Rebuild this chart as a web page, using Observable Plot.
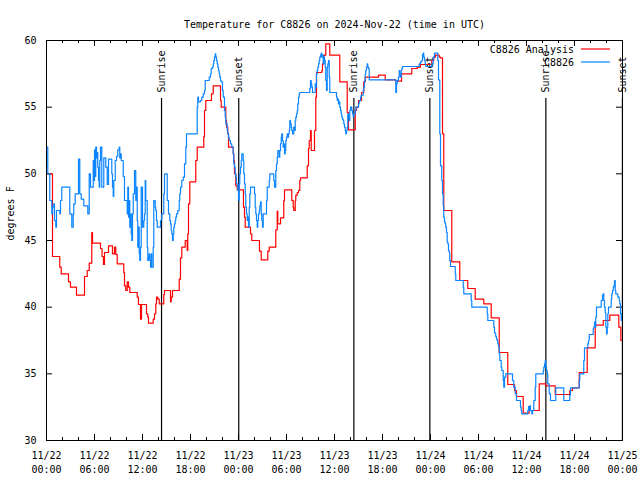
<!DOCTYPE html>
<html><head><meta charset="utf-8">
<script src="https://cdn.jsdelivr.net/npm/d3@7"></script>
<script src="https://cdn.jsdelivr.net/npm/@observablehq/plot@0.6"></script>
<style>body{margin:0;background:#fff}#chart{width:640px;height:480px}</style>
</head><body><div id="chart"></div>
<script>
// hours since 2024-11-22 00:00 UTC, temperature (deg F)
const startMs = Date.UTC(2024, 10, 22);
const analysisSeries = [[0,50],[0.75,43.8],[1.66,43],[1.84,42.5],[2.75,41.9],[3,41.5],[3.75,40.9],[4.75,42.3],[5.09,42.75],[5.34,43.3],[5.66,45.6],[5.75,44.8],[6.75,44.4],[6.94,43.8],[7.12,43.2],[7.25,44.1],[7.75,44.6],[8.25,44],[8.5,44.5],[8.66,43.95],[8.84,43.25],[9.66,42.6],[9.75,41.6],[9.91,41.25],[10.09,41.9],[10.25,41.5],[10.41,41.1],[11.34,40.75],[11.5,40.2],[11.75,39.1],[11.875,40.2],[12.5,39.5],[12.66,39.25],[12.75,38.8],[13.34,39.1],[13.5,39.5],[13.66,40.25],[13.75,40.75],[13.91,40.6],[14.09,40.25],[14.66,40.95],[14.75,41.25],[15.5,40.4],[15.59,40.75],[15.75,41.25],[16.59,42.1],[16.75,43.7],[16.91,44.5],[17.34,45],[17.59,44.25],[17.66,45.5],[17.75,47.75],[17.91,49.4],[18.66,51],[18.84,52],[19.66,52.8],[19.75,54.75],[19.91,55.5],[20.62,56],[20.84,56.6],[21.75,55.5],[21.84,55],[22.41,54],[22.5,53.5],[22.66,53],[22.75,52],[23.34,51.5],[23.41,51],[23.5,50],[23.66,49.1],[23.84,48.8],[24.62,47.5],[24.75,46.75],[24.84,46],[25.5,45.5],[25.66,45],[26.62,44.2],[26.84,43.55],[27.66,44.2],[27.84,44.5],[28.66,45.8],[28.84,47.2],[28.91,46.25],[29.25,46.7],[29.66,48],[29.75,48.8],[30.66,48],[30.84,47.5],[30.91,47.25],[31.09,48],[31.16,48.4],[31.34,48.6],[31.5,48.75],[31.66,49.5],[31.75,49.7],[32.59,50.6],[32.75,51.9],[32.84,52.5],[33,53.25],[33.09,51.75],[33.5,53.25],[33.66,55.75],[33.75,57.6],[34.41,57.75],[34.5,58.25],[34.66,58.9],[34.91,59.75],[35.41,58.9],[36.66,56.9],[37.59,54.6],[37.75,53.3],[38.59,54.75],[38.75,55],[39,55.5],[39.38,56.1],[39.66,56.9],[39.84,57.25],[41.5,57.4],[42.34,57.05],[43.66,56.95],[44.38,57.5],[45.66,57.9],[46.34,58],[46.75,58.2],[48.16,58.5],[48.41,58.75],[48.62,58.9],[49.09,58.75],[49.25,58.7],[49.5,53],[49.66,47.25],[50.66,43.4],[51.66,42],[52.66,41.4],[53.59,40.6],[54.66,40.25],[55.59,39.2],[56.59,36.6],[57.66,34.2],[58.5,33.75],[58.75,33.3],[59.59,32.05],[60.34,32.25],[61.59,34.25],[62.41,34.1],[63.59,33.45],[65.41,33.75],[65.75,33.95],[66.59,35.1],[67.59,36.95],[68.59,38.65],[69.59,39],[70.41,39.4],[71.54,38.5],[71.79,37.5],[72,37.5]];
const observedSeries = [[0,52],[0.16,50],[0.41,48],[0.66,47],[0.75,47.5],[0.91,47.75],[1,46.5],[1.16,46],[1.25,47.25],[1.66,47],[1.75,48],[1.91,49],[2.91,47],[3.16,46],[3.34,47],[3.41,47.75],[3.59,48.5],[4.0,51.1],[4.16,48.5],[4.34,48.1],[4.66,47.6],[5.16,47],[5.34,50],[5.5,49],[5.84,51],[5.91,49.5],[6,51.8],[6.09,49.8],[6.16,52],[6.25,51.2],[6.34,51.6],[6.41,50.5],[6.5,49.5],[6.59,49],[6.66,51],[6.75,52],[6.91,49],[7.16,51.2],[7.34,51.2],[7.41,50.5],[7.59,49.2],[7.75,51.1],[8.16,50],[8.25,49],[8.34,48.3],[8.41,49.5],[8.59,51],[8.75,51.3],[8.91,51.8],[9.09,52],[9.16,51.2],[9.25,51.5],[9.34,51],[9.59,49.8],[9.75,48],[10.0,48],[10.09,47],[10.16,49],[10.25,46.75],[10.34,48],[10.41,46],[10.5,47],[10.59,45.5],[10.66,45],[10.75,47],[10.84,48.5],[11.0,50.25],[11.16,48],[11.25,49],[11.34,46.5],[11.41,44.5],[11.5,46],[11.59,44],[11.66,43.5],[11.75,44.5],[11.84,49],[12.0,46],[12.16,46.5],[12.25,47],[12.34,49.5],[12.41,48],[12.59,44.5],[12.66,43.5],[12.75,43.75],[12.84,44],[12.91,43.5],[13.0,43],[13.09,44],[13.16,43],[13.34,44.5],[13.41,48],[13.59,47.5],[13.66,47.25],[13.75,46.5],[13.84,46],[14.25,46.5],[14.41,47],[14.66,48.5],[14.75,50],[15.09,48],[15.25,47],[15.41,46.5],[15.5,46.25],[15.59,45.75],[15.66,45.5],[15.75,45],[15.84,45.5],[15.91,46],[16.0,46.25],[16.09,46.5],[16.16,46.75],[16.25,47],[16.41,47.25],[16.59,48],[16.66,48.5],[16.75,49],[16.91,49.5],[17.09,49.75],[17.25,50.75],[17.41,52],[17.5,53],[18.84,55],[18.91,55.75],[19.0,55.4],[19.25,55.5],[19.41,55.75],[19.59,56],[19.75,56.25],[19.84,57],[20.34,57.25],[20.5,57.5],[20.59,57.9],[20.75,58],[20.84,58.25],[20.91,58.5],[21.0,58.75],[21.09,59],[21.16,58.75],[21.25,58.5],[21.34,58.25],[21.41,58],[21.5,57.75],[21.59,57.5],[21.66,57.25],[21.75,57],[21.84,56.9],[22.0,56.25],[22.09,55.75],[22.25,54.75],[22.34,54.25],[22.41,53.75],[22.59,53.25],[22.66,53],[22.75,52.75],[22.84,52.5],[23.0,52.25],[23.16,52],[23.34,51.5],[23.41,50.75],[23.5,50.5],[23.59,50],[23.66,49.75],[23.75,49.25],[23.91,48.75],[24.0,48],[24.09,49.25],[24.16,50],[24.25,50.5],[24.34,51],[24.41,51.5],[24.59,51],[24.66,50],[24.75,49.25],[24.84,48.5],[24.91,47.5],[25.0,47],[25.09,46.5],[25.16,46.75],[25.25,46],[25.34,47.5],[25.41,48.5],[25.5,49],[25.91,49],[26.0,48.5],[26.09,47.5],[26.16,47],[26.25,46.5],[26.34,46],[26.41,46.5],[26.5,47],[26.59,47.25],[26.66,47.6],[26.75,47.9],[26.84,47],[26.91,46.5],[27.0,46],[27.09,47],[27.5,48],[27.59,49],[27.84,49.5],[27.91,50],[28.41,49.5],[28.5,49],[28.66,50.25],[28.75,50.75],[28.84,51.25],[28.91,51.75],[29.09,51.25],[29.16,51.75],[29.25,52.25],[29.34,52.75],[29.41,53],[29.5,52.5],[29.59,52],[29.66,52.25],[29.75,51.5],[29.84,51.75],[29.91,52.5],[30.0,52.75],[30.09,53],[30.16,52.75],[30.25,53],[30.34,53.25],[30.41,54],[30.5,53.75],[30.59,53.5],[30.66,53.25],[30.75,53],[30.91,53.5],[31.0,53.25],[31.09,54],[31.16,54.25],[31.25,54.5],[31.34,54.75],[31.41,55.25],[31.5,55.75],[31.59,56],[31.66,56.1],[32.91,56.4],[33.0,57],[33.09,56.75],[33.16,56.5],[33.25,56.1],[33.59,56.75],[33.66,56.5],[33.75,57.5],[33.84,57.75],[33.91,58],[34.0,58.25],[34.09,58.5],[34.16,58.75],[34.25,58.9],[34.34,59.05],[34.41,58.75],[34.5,58.9],[34.59,58.25],[34.66,58.75],[34.75,58.5],[34.84,58],[34.91,57],[35.0,56.25],[35.09,58],[35.16,58.25],[35.25,58.5],[35.34,57.25],[35.41,56.1],[36.25,55.75],[36.34,55.5],[36.41,55.6],[36.5,55.25],[36.59,55.4],[36.66,55],[36.75,54.75],[36.84,54.5],[36.91,54.25],[37.0,54.1],[37.09,54],[37.16,53.75],[37.25,53.5],[37.34,53.25],[37.41,53],[37.5,53.25],[37.59,53.5],[37.66,54.5],[37.75,54.25],[37.84,54],[37.91,54.75],[38.0,55],[38.16,54.75],[38.25,54.5],[38.34,54.25],[38.41,54.5],[38.59,54.75],[38.66,55],[39.0,55.25],[39.09,55.4],[39.16,55.5],[39.25,55.75],[39.34,55.9],[39.59,56.25],[39.66,56.5],[39.75,57],[39.84,57.5],[39.91,57.75],[40.0,58],[40.09,58.25],[40.16,58],[40.25,57.9],[40.34,57.05],[43.66,56.1],[43.75,56.75],[43.84,57],[44.0,57.25],[44.09,57.75],[44.16,57.5],[44.25,57.25],[44.34,57.75],[44.41,57.9],[44.5,58.05],[46.59,58.25],[46.75,58.4],[46.91,58.5],[47.0,58.95],[47.09,59.05],[47.16,58.75],[47.25,58.5],[47.34,58.25],[47.41,58.05],[48.16,58.25],[48.34,58.75],[48.5,59.05],[48.91,58.5],[49.0,57.05],[49.16,53],[49.25,50.6],[49.41,49.5],[49.5,48.5],[49.59,47.6],[49.66,46.75],[49.75,46.4],[49.84,46.25],[49.91,46],[50.0,45.6],[50.09,44.9],[50.16,44.75],[50.25,44.25],[50.34,44.1],[50.41,43.5],[50.5,43.05],[51.09,42.5],[51.16,42],[52.09,41.5],[52.16,41],[53.09,40.5],[53.16,40],[55.09,39.5],[55.16,39],[55.91,38.5],[56.0,38.1],[56.09,38],[56.16,37.8],[56.25,37.6],[56.34,37.5],[56.41,37.25],[56.5,37],[56.59,36.5],[56.66,36],[56.84,35.5],[56.91,35.25],[57.09,34.5],[57.16,34],[57.25,34.75],[57.41,35],[58.16,35],[58.25,34.5],[58.41,34],[58.59,33.5],[58.75,33],[59.25,32.5],[59.34,32.25],[59.41,32],[60.16,32.25],[60.25,32.55],[60.34,32.25],[60.41,32.6],[60.5,32.25],[60.66,32],[60.75,32.25],[60.91,33],[61.09,34],[61.16,35],[62.09,35.25],[62.16,35.5],[62.25,35.75],[62.34,36],[62.41,35.5],[62.5,35.25],[62.59,35],[62.66,34.25],[62.84,33.5],[63.0,33],[63.66,33.95],[64.66,33],[65.41,33.4],[65.5,33.95],[66.59,34.5],[66.66,35],[67.16,36],[67.25,36.95],[67.66,37.25],[67.75,37.5],[67.84,37.95],[68.34,38.4],[68.41,38.5],[68.5,38.9],[68.59,38.5],[68.66,39.25],[68.75,40],[69.34,40.5],[69.5,40.9],[69.59,41],[69.66,40.5],[69.75,40],[69.84,39.6],[69.91,38.5],[70.0,38],[70.09,38.5],[70.16,39.5],[70.25,40],[70.59,40.6],[70.66,41],[70.75,41.25],[70.84,41.5],[70.91,41.6],[71.0,42],[71.09,41.25],[71.16,41],[71.41,40.75],[71.59,40.5],[71.66,40.25],[71.75,39.5],[71.84,39],[71.91,39.5],[72,39.5]];
const sunEventHours = [14.38, 24.03, 38.42, 47.92, 62.42, 71.99];
const sunEventLabels = ["Sunrise", "Sunset", "Sunrise", "Sunset", "Sunrise", "Sunset"];
const yTickValues = [30, 35, 40, 45, 50, 55, 60];
const xMajorHours = [0, 6, 12, 18, 24, 30, 36, 42, 48, 54, 60, 66, 72];
const xMinorHours = [2, 4, 8, 10, 14, 16, 20, 22, 26, 28, 32, 34, 38, 40, 44, 46, 50, 52, 56, 58, 62, 64, 68, 70];
const seriesNames = ["C8826 Analysis", "C8826"];
const seriesColors = ["#ff0000", "#0a84ff"];
const titleText = "Temperature for C8826 on 2024-Nov-22 (time in UTC)";
const yLabelText = "degrees F";

const toDate = h => new Date(startMs + h * 3600e3);
const analysis = analysisSeries.map(([h, v]) => ({time: toDate(h), temp: v}));
const observed = observedSeries.map(([h, v]) => ({time: toDate(h), temp: v}));
const events = sunEventHours.map((h, i) => ({time: toDate(h), label: sunEventLabels[i]}));
const xMajor = xMajorHours.map(toDate);
const xMinor = xMinorHours.map(toDate);
const fmtDay = d3.utcFormat("%m/%d"), fmtTime = d3.utcFormat("%H:%M");

const W = 640, H = 480, mL = 46, mR = 18, mT = 40, mB = 40;
const fw = W - mL - mR, fh = H - mT - mB;
const font = "DejaVu Sans Mono";

const chart = Plot.plot({
  width: W, height: H,
  marginLeft: mL, marginRight: mR, marginTop: mT, marginBottom: mB,
  style: {fontFamily: font, fontSize: "10px", background: "#fff", color: "#000"},
  x: {type: "utc", domain: [toDate(0), toDate(72)], axis: null},
  y: {domain: [30, 60], axis: null},
  marks: [
    // tick marks (inward, gnuplot style)
    Plot.ruleX(xMajor, {x: d => d, insetTop: fh - 6, stroke: "#000"}),
    Plot.ruleX(xMajor, {x: d => d, insetBottom: fh - 6, stroke: "#000"}),
    Plot.ruleX(xMinor, {x: d => d, insetTop: fh - 3, stroke: "#000"}),
    Plot.ruleX(xMinor, {x: d => d, insetBottom: fh - 3, stroke: "#000"}),
    Plot.ruleY(yTickValues, {y: d => d, insetRight: fw - 6, stroke: "#000"}),
    Plot.ruleY(yTickValues, {y: d => d, insetLeft: fw - 6, stroke: "#000"}),
    // tick labels
    Plot.text(xMajor, {x: d => d, text: d => fmtDay(d) + "\n" + fmtTime(d), frameAnchor: "bottom", dy: 8, lineAnchor: "top", lineHeight: 1.45, fontSize: 10, fill: "#000"}),
    Plot.text(yTickValues, {y: d => d, text: d => String(d), frameAnchor: "left", textAnchor: "end", dx: -10, fontSize: 10, fill: "#000"}),
    // sunrise / sunset
    Plot.ruleX(events, {x: "time", insetTop: 58, stroke: "#000", strokeWidth: 1.2}),
    Plot.text(events, {x: "time", text: "label", frameAnchor: "top", dy: 52, dx: -4, rotate: -90, textAnchor: "start", fontSize: 10, fill: "#000"}),
    // series
    Plot.line(analysis, {x: "time", y: "temp", curve: "step-after", stroke: seriesColors[0], strokeWidth: 1.2}),
    Plot.line(observed, {x: "time", y: "temp", curve: "step-after", stroke: seriesColors[1], strokeWidth: 1.2}),
    Plot.frame({stroke: "#000"}),
    // title and y label
    Plot.text([titleText], {frameAnchor: "top", dy: -20, fontSize: 10, fill: "#000"}),
    Plot.text([yLabelText], {frameAnchor: "left", dx: -36, rotate: -90, fontSize: 10, fill: "#000"})
  ]
});

// legend (drawn inside svg, top-right of frame)
const svg = d3.select(chart);
const lg = svg.append("g").attr("font-family", font).attr("font-size", 10);
seriesNames.forEach((name, i) => {
  const y = mT + 10 + i * 13;
  lg.append("text").attr("x", W - mR - 48).attr("y", y).attr("dy", "0.32em").attr("text-anchor", "end").attr("fill", "#000").text(name);
  lg.append("line").attr("x1", W - mR - 41).attr("x2", W - mR - 12).attr("y1", y - 1).attr("y2", y - 1).attr("stroke", seriesColors[i]).attr("stroke-width", 1.2);
});
document.getElementById("chart").appendChild(chart);
</script>
</body></html>
